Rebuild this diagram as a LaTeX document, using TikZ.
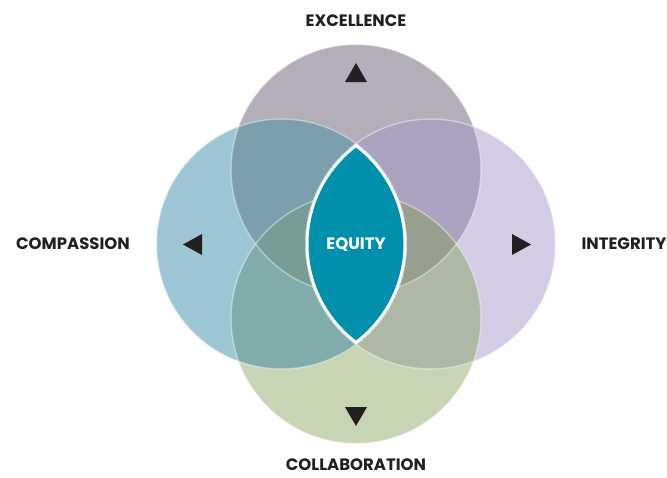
\documentclass[tikz,border=0pt]{standalone}
\usepackage{fontspec}
\newfontfamily\lblfont{Poppins}
\usepackage{tikz}
\usetikzlibrary{positioning}

\definecolor{topc}{HTML}{B3AEBA}
\definecolor{leftc}{HTML}{9CC6D3}
\definecolor{rightc}{HTML}{D3CCE4}
\definecolor{botc}{HTML}{C7D5B5}
\definecolor{tlc}{HTML}{7B9FAD}
\definecolor{trc}{HTML}{AAA2BF}
\definecolor{lbc}{HTML}{80ADAB}
\definecolor{rbc}{HTML}{ADB8A6}
\definecolor{tlbc}{HTML}{779C96}
\definecolor{trbc}{HTML}{999F8E}
\definecolor{equityc}{HTML}{0090AB}
\definecolor{trianc}{HTML}{231F20}

\tikzset{
  label/.style={font=\lblfont\bfseries\fontsize{16.5}{18}\selectfont, text=trianc, inner sep=0pt},
  rim/.style={draw=white, draw opacity=0.4, line width=1.5pt},
  tri/.style={fill=trianc}
}
\newcommand{\rad}{125pt}

\begin{document}
\begin{tikzpicture}[x=1pt, y=-1pt]
    \useasboundingbox (0,0) rectangle (667,477);
    \coordinate (exc) at (356,169.5);
    \coordinate (com) at (281.5,244);
    \coordinate (int) at (430.5,244);
    \coordinate (col) at (356,318.5);

    % single circles
    \fill[topc] (exc) circle (\rad);
    \fill[leftc] (com) circle (\rad);
    \fill[rightc] (int) circle (\rad);
    \fill[botc] (col) circle (\rad);

    % pairwise overlaps
    \begin{scope}
        \clip (exc) circle (\rad);
        \fill[tlc] (com) circle (\rad);
        \fill[trc] (int) circle (\rad);
    \end{scope}
    \begin{scope}
        \clip (col) circle (\rad);
        \fill[lbc] (com) circle (\rad);
        \fill[rbc] (int) circle (\rad);
    \end{scope}

    % triple overlaps
    \begin{scope}
        \clip (exc) circle (\rad);
        \clip (col) circle (\rad);
        \fill[tlbc] (com) circle (\rad);
    \end{scope}
    \begin{scope}
        \clip (exc) circle (\rad);
        \clip (col) circle (\rad);
        \clip (int) circle (\rad);
        \fill[trbc] (int) circle (\rad);
    \end{scope}

    % light rims
    \draw[rim] (exc) circle (\rad);
    \draw[rim] (com) circle (\rad);
    \draw[rim] (int) circle (\rad);
    \draw[rim] (col) circle (\rad);

    % centre lens
    \begin{scope}
        \clip (com) circle (\rad);
        \clip (int) circle (\rad);
        \fill[equityc] (com) circle (\rad);
        \draw[white, line width=6pt] (com) circle (\rad);
        \draw[white, line width=6pt] (int) circle (\rad);
    \end{scope}
    \node (equity) at (356,245) [label, text=white] {EQUITY};

    % triangles
    \fill[tri] (345,82) -- (367,82) -- (356,63) -- cycle;
    \fill[tri] (345,407) -- (367,407) -- (356,426) -- cycle;
    \fill[tri] (202,234) -- (202,255) -- (183,244.5) -- cycle;
    \fill[tri] (512,234) -- (512,255) -- (531,244.5) -- cycle;

    % labels
    \node (lexc) at (356,26) [label, anchor=base] {EXCELLENCE};
    \node (lcom) at (73,249) [label, anchor=base] {COMPASSION};
    \node (lint) at (624,249) [label, anchor=base] {INTEGRITY};
    \node (lcol) at (356,470) [label, anchor=base] {COLLABORATION};
\end{tikzpicture}
\end{document}
